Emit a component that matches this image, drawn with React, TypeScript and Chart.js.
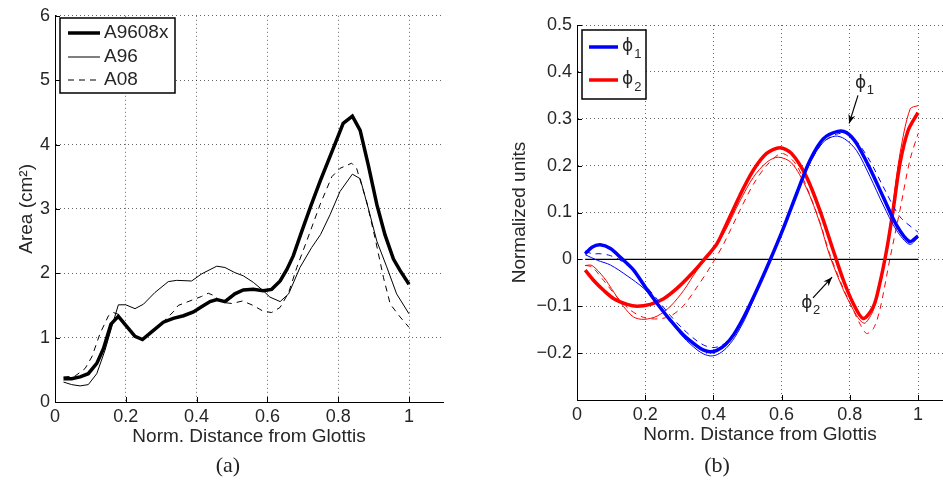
import React, { useEffect, useRef } from "react";
import { Chart, registerables } from "chart.js";

Chart.register(...registerables);

// ---------------- Panel (a): area functions ----------------
const xA9608x = [0.024, 0.047, 0.071, 0.094, 0.118, 0.137, 0.158, 0.179, 0.2, 0.226, 0.247, 0.273, 0.306, 0.334, 0.363, 0.391, 0.414, 0.438, 0.457, 0.48, 0.508, 0.532, 0.56, 0.588, 0.612, 0.636, 0.655, 0.673, 0.697, 0.723, 0.749, 0.786, 0.814, 0.84, 0.862, 0.885, 0.909, 0.932, 0.956, 0.975, 1.0];
const yA9608x = [0.36, 0.36, 0.39, 0.44, 0.6, 0.83, 1.21, 1.33, 1.19, 1.02, 0.97, 1.09, 1.24, 1.3, 1.34, 1.4, 1.48, 1.56, 1.59, 1.56, 1.68, 1.74, 1.75, 1.73, 1.75, 1.88, 2.06, 2.27, 2.65, 3.05, 3.43, 3.94, 4.33, 4.44, 4.22, 3.68, 3.07, 2.6, 2.22, 2.04, 1.83];

const xA96 = [0.024, 0.047, 0.071, 0.094, 0.118, 0.141, 0.16, 0.179, 0.2, 0.226, 0.25, 0.282, 0.32, 0.344, 0.386, 0.414, 0.457, 0.48, 0.508, 0.532, 0.56, 0.588, 0.607, 0.636, 0.66, 0.692, 0.725, 0.75, 0.777, 0.805, 0.84, 0.862, 0.885, 0.909, 0.937, 0.965, 1.0];
const yA96 = [0.31, 0.27, 0.25, 0.27, 0.44, 0.8, 1.16, 1.51, 1.51, 1.45, 1.52, 1.7, 1.87, 1.89, 1.88, 1.99, 2.11, 2.09, 2.01, 1.96, 1.86, 1.73, 1.63, 1.56, 1.68, 2.09, 2.4, 2.6, 2.91, 3.27, 3.54, 3.47, 3.01, 2.5, 2.1, 1.68, 1.37];

const xA08 = [0.024, 0.056, 0.085, 0.104, 0.127, 0.151, 0.165, 0.18, 0.2, 0.226, 0.247, 0.273, 0.306, 0.334, 0.348, 0.381, 0.414, 0.433, 0.45, 0.47, 0.5, 0.53, 0.56, 0.588, 0.612, 0.636, 0.66, 0.683, 0.711, 0.749, 0.782, 0.805, 0.838, 0.852, 0.88, 0.904, 0.928, 0.947, 0.975, 1.0];
const yA08 = [0.39, 0.4, 0.52, 0.7, 1.06, 1.34, 1.39, 1.36, 1.2, 1.02, 0.98, 1.1, 1.25, 1.4, 1.5, 1.57, 1.64, 1.69, 1.65, 1.55, 1.53, 1.57, 1.5, 1.41, 1.39, 1.47, 1.7, 2.09, 2.5, 3.07, 3.5, 3.63, 3.71, 3.63, 3.12, 2.55, 1.93, 1.52, 1.32, 1.16];

const areaXTicks = [0, 0.2, 0.4, 0.6, 0.8, 1];
const areaXTickLabels = ["0", "0.2", "0.4", "0.6", "0.8", "1"];
const areaYTicks = [0, 1, 2, 3, 4, 5, 6];
const areaYTickLabels = ["0", "1", "2", "3", "4", "5", "6"];
const areaLegendLabels = ["A9608x", "A96", "A08"];

// ---------------- Panel (b): first two modes ----------------
const xPhi1A9608x = [0.024, 0.044, 0.068, 0.098, 0.132, 0.166, 0.2, 0.235, 0.274, 0.313, 0.352, 0.37, 0.39, 0.41, 0.435, 0.46, 0.49, 0.527, 0.566, 0.605, 0.644, 0.683, 0.722, 0.765, 0.791, 0.82, 0.859, 0.898, 0.937, 0.975, 1.0];
const yPhi1A9608x = [0.012, 0.026, 0.031, 0.023, 0.001, -0.023, -0.059, -0.094, -0.13, -0.162, -0.185, -0.193, -0.197, -0.194, -0.182, -0.16, -0.122, -0.066, -0.002, 0.066, 0.14, 0.211, 0.257, 0.273, 0.27, 0.247, 0.194, 0.133, 0.073, 0.038, 0.05];

const xPhi1A96 = [0.024, 0.06, 0.098, 0.147, 0.196, 0.235, 0.274, 0.313, 0.352, 0.372, 0.392, 0.412, 0.437, 0.462, 0.492, 0.527, 0.566, 0.605, 0.644, 0.683, 0.722, 0.757, 0.785, 0.82, 0.859, 0.898, 0.937, 0.975, 1.0];
const yPhi1A96 = [0.01, -0.002, -0.012, -0.035, -0.062, -0.094, -0.132, -0.167, -0.193, -0.202, -0.206, -0.203, -0.19, -0.167, -0.128, -0.07, -0.004, 0.066, 0.138, 0.206, 0.25, 0.263, 0.257, 0.232, 0.177, 0.116, 0.062, 0.032, 0.046];

const xPhi1A08 = [0.024, 0.044, 0.068, 0.098, 0.132, 0.166, 0.2, 0.235, 0.274, 0.313, 0.352, 0.375, 0.398, 0.42, 0.445, 0.47, 0.497, 0.527, 0.566, 0.605, 0.644, 0.683, 0.722, 0.761, 0.791, 0.82, 0.859, 0.898, 0.947, 1.0];
const yPhi1A08 = [0.018, 0.012, 0.012, 0.008, -0.004, -0.025, -0.055, -0.085, -0.12, -0.15, -0.174, -0.184, -0.188, -0.185, -0.172, -0.148, -0.112, -0.068, -0.004, 0.063, 0.136, 0.205, 0.25, 0.267, 0.268, 0.252, 0.21, 0.155, 0.091, 0.058];

const xPhi2A9608x = [0.024, 0.049, 0.078, 0.108, 0.147, 0.176, 0.215, 0.254, 0.293, 0.332, 0.371, 0.41, 0.43, 0.478, 0.517, 0.556, 0.595, 0.629, 0.673, 0.712, 0.751, 0.781, 0.81, 0.839, 0.869, 0.888, 0.908, 0.927, 0.947, 0.971, 1.0];
const yPhi2A9608x = [-0.023, -0.045, -0.066, -0.084, -0.096, -0.1, -0.096, -0.084, -0.062, -0.034, -0.002, 0.033, 0.062, 0.137, 0.19, 0.226, 0.238, 0.226, 0.176, 0.105, 0.02, -0.044, -0.094, -0.126, -0.101, -0.051, 0.02, 0.105, 0.204, 0.275, 0.313];

const xPhi2A96 = [0.024, 0.044, 0.078, 0.108, 0.137, 0.166, 0.196, 0.235, 0.274, 0.313, 0.35, 0.39, 0.43, 0.478, 0.517, 0.556, 0.59, 0.629, 0.673, 0.712, 0.741, 0.781, 0.81, 0.83, 0.845, 0.869, 0.888, 0.908, 0.927, 0.947, 0.977, 1.0];
const yPhi2A96 = [-0.013, -0.013, -0.038, -0.07, -0.101, -0.123, -0.128, -0.121, -0.1, -0.066, -0.025, 0.013, 0.055, 0.125, 0.175, 0.207, 0.218, 0.206, 0.152, 0.078, 0.008, -0.065, -0.107, -0.13, -0.136, -0.108, -0.055, 0.025, 0.12, 0.225, 0.321, 0.328];

const xPhi2A08 = [0.024, 0.044, 0.078, 0.117, 0.156, 0.196, 0.235, 0.274, 0.313, 0.352, 0.391, 0.43, 0.478, 0.517, 0.556, 0.6, 0.64, 0.673, 0.712, 0.741, 0.781, 0.81, 0.83, 0.849, 0.869, 0.888, 0.917, 0.947, 0.976, 1.0];
const yPhi2A08 = [-0.013, -0.016, -0.045, -0.08, -0.108, -0.124, -0.127, -0.121, -0.098, -0.059, -0.016, 0.033, 0.105, 0.16, 0.2, 0.226, 0.205, 0.155, 0.08, 0.012, -0.062, -0.108, -0.138, -0.158, -0.148, -0.108, -0.001, 0.105, 0.211, 0.268];

const zeroLineX = [0.024, 1.0];
const zeroLineY = [0, 0];

const modeXTicks = [0, 0.2, 0.4, 0.6, 0.8, 1];
const modeXTickLabels = ["0", "0.2", "0.4", "0.6", "0.8", "1"];
const modeYTicks = [-0.2, -0.1, 0, 0.1, 0.2, 0.3, 0.4, 0.5];
const modeYTickLabels = ["\u22120.2", "\u22120.1", "0", "0.1", "0.2", "0.3", "0.4", "0.5"];
const modeLegendSubs = ["1", "2"];

// annotation anchors in data units: [textX, textY, arrowFromX, arrowFromY, arrowToX, arrowToY]
const annoPhi1 = [0.832, 0.376, 0.824, 0.35, 0.798, 0.29];
const annoPhi2 = [0.674, -0.095, 0.692, -0.082, 0.748, -0.038];

// ---------------- helpers ----------------
const FONT = '"Liberation Sans", Arial, Helvetica, sans-serif';
const PHI_FONT = '"DejaVu Sans", "Liberation Sans", sans-serif';
const TEXT = "#262626";
const PHI = "\u03D5";
const BLUE = "#0000ff";
const RED = "#ff0000";

function pts(xs: number[], ys: number[]) {
  return xs.map((x, i) => ({ x, y: ys[i] }));
}

const inwardTicks = {
  id: "inwardTicks",
  afterDraw(chart: any) {
    const { ctx, chartArea: a, scales } = chart;
    ctx.save();
    ctx.strokeStyle = "#000";
    ctx.lineWidth = 1;
    ctx.beginPath();
    for (const t of scales.x.ticks) {
      const p = Math.round(scales.x.getPixelForValue(t.value)) + 0.5;
      ctx.moveTo(p, a.bottom);
      ctx.lineTo(p, a.bottom - 5);
    }
    for (const t of scales.y.ticks) {
      const p = Math.round(scales.y.getPixelForValue(t.value)) + 0.5;
      ctx.moveTo(a.left, p);
      ctx.lineTo(a.left + 5, p);
    }
    ctx.stroke();
    ctx.restore();
  },
};

type LegendItem = { label: string; sub?: string; color: string; width: number; dash?: number[] };

function boxLegend(
  box: { x: number; y: number; w: number; h: number },
  rows: number[],
  lineX: [number, number],
  textX: number,
  items: LegendItem[],
  labelFont: string,
  subFont: string
) {
  return {
    id: "boxLegend",
    afterDraw(chart: any) {
      const ctx = chart.ctx;
      ctx.save();
      ctx.fillStyle = "#fff";
      ctx.fillRect(box.x, box.y, box.w, box.h);
      ctx.strokeStyle = "#000";
      ctx.lineWidth = 1.5;
      ctx.strokeRect(box.x, box.y, box.w, box.h);
      items.forEach((it, i) => {
        const y = rows[i];
        ctx.beginPath();
        ctx.setLineDash(it.dash || []);
        ctx.lineWidth = it.width;
        ctx.strokeStyle = it.color;
        ctx.moveTo(lineX[0], y);
        ctx.lineTo(lineX[1], y);
        ctx.stroke();
        ctx.setLineDash([]);
        ctx.fillStyle = TEXT;
        ctx.textBaseline = "middle";
        ctx.textAlign = "left";
        ctx.font = labelFont;
        ctx.fillText(it.label, textX, y);
        if (it.sub) {
          const w = ctx.measureText(it.label).width;
          ctx.font = subFont;
          ctx.fillText(it.sub, textX + w + 1, y + 7);
        }
      });
      ctx.restore();
    },
  };
}

const phiAnnotations = {
  id: "phiAnnotations",
  afterDraw(chart: any) {
    const { ctx, scales } = chart;
    const sx = scales.x;
    const sy = scales.y;
    const list: [number[], string][] = [
      [annoPhi1, modeLegendSubs[0]],
      [annoPhi2, modeLegendSubs[1]],
    ];
    ctx.save();
    for (const [a, sub] of list) {
      const tx = sx.getPixelForValue(a[0]);
      const ty = sy.getPixelForValue(a[1]);
      ctx.fillStyle = TEXT;
      ctx.textBaseline = "middle";
      ctx.textAlign = "center";
      ctx.font = `17px ${PHI_FONT}`;
      ctx.fillText(PHI, tx, ty);
      const w = ctx.measureText(PHI).width;
      ctx.textAlign = "left";
      ctx.font = `13px ${FONT}`;
      ctx.fillText(sub, tx + w / 2 + 0.5, ty + 7);
      const x1 = sx.getPixelForValue(a[2]);
      const y1 = sy.getPixelForValue(a[3]);
      const x2 = sx.getPixelForValue(a[4]);
      const y2 = sy.getPixelForValue(a[5]);
      ctx.strokeStyle = "#000";
      ctx.lineWidth = 1.2;
      ctx.beginPath();
      ctx.moveTo(x1, y1);
      ctx.lineTo(x2, y2);
      ctx.stroke();
      const ang = Math.atan2(y2 - y1, x2 - x1);
      const L = 9;
      const W = 3.5;
      ctx.fillStyle = "#000";
      ctx.beginPath();
      ctx.moveTo(x2, y2);
      ctx.lineTo(x2 - L * Math.cos(ang) + W * Math.sin(ang), y2 - L * Math.sin(ang) - W * Math.cos(ang));
      ctx.lineTo(x2 - L * 0.7 * Math.cos(ang), y2 - L * 0.7 * Math.sin(ang));
      ctx.lineTo(x2 - L * Math.cos(ang) - W * Math.sin(ang), y2 - L * Math.sin(ang) + W * Math.cos(ang));
      ctx.closePath();
      ctx.fill();
    }
    ctx.restore();
  },
};

function axisCommon() {
  return {
    type: "linear" as const,
    grid: { drawTicks: false, color: "rgba(0,0,0,0.6)", lineWidth: 1 },
    border: { display: true, color: "#000", width: 1, dash: [1, 3] },
  };
}

function makeAreaConfig(): any {
  return {
    type: "line",
    data: {
      datasets: [
        { label: areaLegendLabels[0], data: pts(xA9608x, yA9608x), borderColor: "#000", borderWidth: 3.5, pointRadius: 0, fill: false, tension: 0 },
        { label: areaLegendLabels[1], data: pts(xA96, yA96), borderColor: "#000", borderWidth: 1, pointRadius: 0, fill: false, tension: 0 },
        { label: areaLegendLabels[2], data: pts(xA08, yA08), borderColor: "#000", borderWidth: 1, borderDash: [6, 5], pointRadius: 0, fill: false, tension: 0 },
      ],
    },
    options: {
      responsive: false,
      animation: false,
      layout: { padding: { left: 0, top: 13, right: 27, bottom: 22 } },
      plugins: { legend: { display: false }, tooltip: { enabled: false } },
      scales: {
        x: {
          ...axisCommon(),
          min: 0,
          max: 1.096,
          afterBuildTicks: (ax: any) => {
            ax.ticks = areaXTicks.map((v) => ({ value: v }));
          },
          afterFit: (ax: any) => {
            ax.height = 62;
          },
          ticks: {
            callback: (_v: any, i: number) => areaXTickLabels[i],
            font: { family: FONT, size: 18 },
            color: TEXT,
            padding: 4,
            maxRotation: 0,
            autoSkip: false,
          },
          title: { display: true, text: "Norm. Distance from Glottis", font: { family: FONT, size: 19 }, color: TEXT, padding: { top: 0, bottom: 15.6 } },
        },
        y: {
          ...axisCommon(),
          min: 0,
          max: 6,
          afterBuildTicks: (ax: any) => {
            ax.ticks = areaYTicks.map((v) => ({ value: v }));
          },
          afterFit: (ax: any) => {
            ax.width = 55;
          },
          ticks: {
            callback: (_v: any, i: number) => areaYTickLabels[i],
            font: { family: FONT, size: 18 },
            color: TEXT,
            padding: 5,
            autoSkip: false,
          },
          title: { display: true, text: "Area (cm\u00B2)", font: { family: FONT, size: 19 }, color: TEXT, padding: { top: 15.6, bottom: 0 } },
        },
      },
    },
    plugins: [
      inwardTicks,
      boxLegend(
        { x: 60, y: 18, w: 115, h: 75 },
        [33, 57, 80],
        [68, 100],
        104,
        [
          { label: areaLegendLabels[0], color: "#000", width: 3.5 },
          { label: areaLegendLabels[1], color: "#000", width: 1 },
          { label: areaLegendLabels[2], color: "#000", width: 1, dash: [6, 5] },
        ],
        `19px ${FONT}`,
        `13px ${FONT}`
      ),
    ],
  };
}

function makeModeConfig(): any {
  const common = { pointRadius: 0, fill: false, tension: 0.3 };
  return {
    type: "line",
    data: {
      datasets: [
        { label: "phi1 A9608x", data: pts(xPhi1A9608x, yPhi1A9608x), borderColor: BLUE, borderWidth: 3.5, ...common },
        { label: "phi1 A96", data: pts(xPhi1A96, yPhi1A96), borderColor: BLUE, borderWidth: 1, ...common },
        { label: "phi1 A08", data: pts(xPhi1A08, yPhi1A08), borderColor: BLUE, borderWidth: 1, borderDash: [6, 5], ...common },
        { label: "phi2 A9608x", data: pts(xPhi2A9608x, yPhi2A9608x), borderColor: RED, borderWidth: 3.5, ...common },
        { label: "phi2 A96", data: pts(xPhi2A96, yPhi2A96), borderColor: RED, borderWidth: 1, ...common },
        { label: "phi2 A08", data: pts(xPhi2A08, yPhi2A08), borderColor: RED, borderWidth: 1, borderDash: [6, 5], ...common },
        { label: "zero", data: pts(zeroLineX, zeroLineY), borderColor: "#000", borderWidth: 1.2, pointRadius: 0, fill: false, tension: 0 },
      ],
    },
    options: {
      responsive: false,
      animation: false,
      layout: { padding: { left: 0, top: 25, right: 0, bottom: 24 } },
      plugins: { legend: { display: false }, tooltip: { enabled: false } },
      scales: {
        x: {
          ...axisCommon(),
          min: 0,
          max: 1.0733,
          afterBuildTicks: (ax: any) => {
            ax.ticks = modeXTicks.map((v) => ({ value: v }));
          },
          afterFit: (ax: any) => {
            ax.height = 62;
          },
          ticks: {
            callback: (_v: any, i: number) => modeXTickLabels[i],
            font: { family: FONT, size: 18 },
            color: TEXT,
            padding: 4,
            maxRotation: 0,
            autoSkip: false,
          },
          title: { display: true, text: "Norm. Distance from Glottis", font: { family: FONT, size: 19 }, color: TEXT, padding: { top: 0, bottom: 15.6 } },
        },
        y: {
          ...axisCommon(),
          min: -0.3,
          max: 0.5,
          afterBuildTicks: (ax: any) => {
            ax.ticks = modeYTicks.map((v) => ({ value: v }));
          },
          afterFit: (ax: any) => {
            ax.width = 107;
          },
          ticks: {
            callback: (_v: any, i: number) => modeYTickLabels[i],
            font: { family: FONT, size: 18 },
            color: TEXT,
            padding: 5,
            autoSkip: false,
          },
          title: { display: true, text: "Normalized units", font: { family: FONT, size: 19 }, color: TEXT, padding: { top: 38.6, bottom: 0 } },
        },
      },
    },
    plugins: [
      inwardTicks,
      phiAnnotations,
      boxLegend(
        { x: 112, y: 30, w: 64, h: 69 },
        [47, 80],
        [119, 148],
        152,
        [
          { label: PHI, sub: modeLegendSubs[0], color: BLUE, width: 3.5 },
          { label: PHI, sub: modeLegendSubs[1], color: RED, width: 3.5 },
        ],
        `17px ${PHI_FONT}`,
        `13px ${FONT}`
      ),
    ],
  };
}

function ChartCanvas({ make, left, width }: { make: () => any; left: number; width: number }) {
  const ref = useRef<HTMLCanvasElement>(null);
  useEffect(() => {
    const chart = new Chart(ref.current as HTMLCanvasElement, make());
    return () => chart.destroy();
  }, [make]);
  return (
    <canvas
      ref={ref}
      width={width}
      height={486}
      style={{ position: "absolute", left, top: 0, width, height: 486, display: "block" }}
    />
  );
}

const captionStyle: React.CSSProperties = {
  position: "absolute",
  top: 452,
  width: 100,
  height: 26,
  lineHeight: "26px",
  textAlign: "center",
  fontFamily: '"Liberation Serif", "DejaVu Serif", serif',
  fontSize: 22,
  color: "#222",
};

export default function App() {
  return (
    <div style={{ position: "absolute", left: 0, top: 0, width: 943, height: 486, background: "#fff", overflow: "hidden" }}>
      <ChartCanvas make={makeAreaConfig} left={0} width={470} />
      <ChartCanvas make={makeModeConfig} left={470} width={473} />
      <div style={{ ...captionStyle, left: 228 - 50 }}>(a)</div>
      <div style={{ ...captionStyle, left: 717 - 50 }}>(b)</div>
    </div>
  );
}
